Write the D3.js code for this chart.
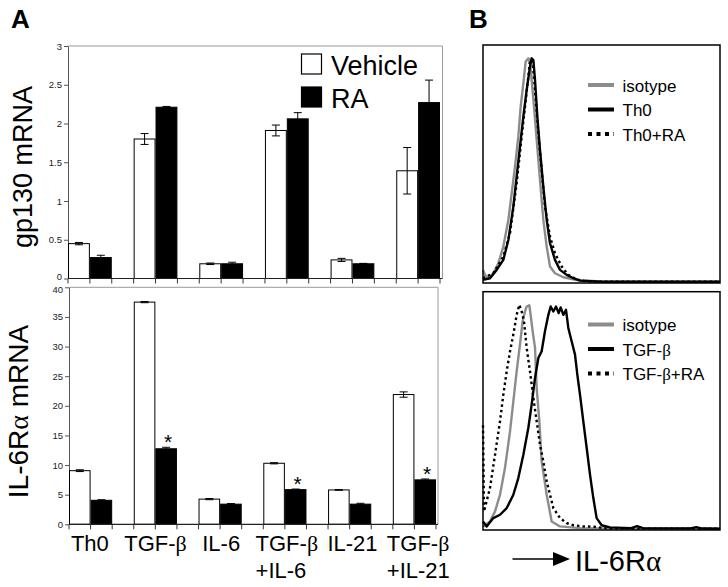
<!DOCTYPE html>
<html><head><meta charset="utf-8">
<script src="https://cdn.jsdelivr.net/npm/d3@7"></script>
<style>body{margin:0;background:#fff} svg{display:block;font-family:"Liberation Sans",Arial,sans-serif}</style>
</head><body><svg id="c" width="728" height="587"></svg>
<script>
// ---------- Data ----------
const categories = [["Th0"],["TGF-β"],["IL-6"],["TGF-β","+IL-6"],["IL-21"],["TGF-β","+IL-21"]];
const seriesNames = ["Vehicle","RA"];
const gp130Vehicle    = [0.45, 1.80, 0.19, 1.91, 0.24, 1.39];
const gp130VehicleErr = [0.015,0.07, 0.01, 0.07, 0.02, 0.30];
const gp130RA         = [0.27, 2.21, 0.19, 2.06, 0.19, 2.27];
const gp130RAErr      = [0.03, 0.01, 0.02, 0.08, 0.005,0.29];
const il6raVehicle    = [9.05, 37.5, 4.25, 10.3, 5.8, 21.9];
const il6raVehicleErr = [0.15, 0.1, 0.1, 0.1, 0.05, 0.45];
const il6raRA         = [4.05, 12.75,3.4, 5.85, 3.4, 7.5];
const il6raRAErr      = [0.1, 0.25, 0.1, 0.1, 0.15, 0.15];
const il6raSignif     = [false,true,false,true,false,true];
const gp130Ticks = [0,0.5,1,1.5,2,2.5,3];
const il6raTicks = [0,5,10,15,20,25,30,35,40];

// Flow histograms: [log decade, % of max]
const topIsotype = [[0,5.5],[0.034,3.4],[0.09,2.0],[0.174,4.1],[0.259,8.3],[0.343,15.3],[0.428,26.5],[0.484,37.7],[0.54,48.9],[0.596,61.5],[0.636,74.1],[0.681,83.9],[0.72,93],[0.765,94.4],[0.793,93],[0.821,85.3],[0.861,74.1],[0.906,60.1],[0.962,43.3],[1.018,26.5],[1.075,15.3],[1.131,6.9],[1.215,4.1],[1.356,2.4],[1.581,1.2],[2.0,0.6],[3.0,0.5],[4.0,0.5]];
const topTh0 = [[0,1.3],[0.118,2.0],[0.231,5.5],[0.343,9.7],[0.428,18.1],[0.512,32.1],[0.568,44.7],[0.624,57.3],[0.681,69.9],[0.737,81.1],[0.793,90.9],[0.821,94.4],[0.85,93.7],[0.878,85.3],[0.917,69.9],[0.962,55.9],[1.018,40.5],[1.075,26.5],[1.131,16.7],[1.215,9.7],[1.3,5.5],[1.412,3.4],[1.525,2.0],[1.637,1.0],[2.0,0.5],[3.0,0.5],[4.0,0.5]];
const topTh0RA = [[0,2.0],[0.174,4.1],[0.343,11.1],[0.456,20.9],[0.568,41.9],[0.653,61.5],[0.709,74.1],[0.765,86.7],[0.793,93.7],[0.838,93],[0.878,81.1],[0.934,62.9],[0.99,47.5],[1.046,32.1],[1.131,19.5],[1.215,12.5],[1.328,6.9],[1.44,3.4],[1.581,1.5],[1.75,0.6],[2.5,0.5],[4.0,0.5]];
const botIsotype = [[0.006,1.5],[0.118,3.6],[0.203,7.8],[0.287,14.8],[0.371,26.0],[0.456,41.4],[0.512,54.0],[0.568,66.6],[0.624,77.8],[0.669,87.6],[0.709,91.7],[0.737,93.8],[0.782,94.3],[0.804,90.3],[0.838,83.4],[0.878,76.4],[0.906,59.6],[0.951,45.6],[0.99,28.8],[1.075,14.8],[1.159,3.6],[1.3,1.5],[1.637,0.8],[2.5,0.5],[4.0,0.5]];
const botTGFb = [[0,3.6],[0.062,1.5],[0.174,5.0],[0.287,6.4],[0.4,9.2],[0.512,14.8],[0.596,21.8],[0.681,31.6],[0.765,42.8],[0.821,52.6],[0.878,63.8],[0.934,72.2],[0.99,75.0],[1.046,83.4],[1.103,90.3],[1.142,93.8],[1.187,91.7],[1.232,93.8],[1.277,91.0],[1.311,93.4],[1.356,90.3],[1.401,92.4],[1.44,84.8],[1.496,79.2],[1.553,73.6],[1.592,65.2],[1.637,56.8],[1.693,45.6],[1.75,34.4],[1.806,23.2],[1.862,13.4],[1.918,5.0],[2.003,2.0],[2.143,1.1],[2.5,0.8],[2.6,1.6],[2.7,0.8],[3.5,0.7],[3.6,1.2],[3.7,0.6],[4.0,0.5]];
const botTGFbRA = [[0,44],[0.017,7.8],[0.118,17.6],[0.203,31.6],[0.287,45.6],[0.343,56.8],[0.4,66.6],[0.456,75.0],[0.512,82.0],[0.568,90.3],[0.613,94.5],[0.653,91.7],[0.692,87.6],[0.737,76.4],[0.793,66.6],[0.85,55.4],[0.906,45.6],[0.962,35.8],[1.018,28.8],[1.075,20.4],[1.131,14.8],[1.187,9.2],[1.3,5.0],[1.412,2.9],[1.525,2.0],[1.693,1.5],[1.862,1.4],[2.1,0.6],[4.0,0.5]];
const topLegend = ["isotype","Th0","Th0+RA"];
const botLegend = ["isotype","TGF-β","TGF-β+RA"];

// ---------- Helpers ----------
const svg = d3.select("#c");
function richText(sel, str){
  str.split(/([αβ])/).filter(s=>s.length).forEach(s=>{
    const t = sel.append("tspan").text(s);
    if(/[αβ]/.test(s)) t.attr("font-family","'Liberation Serif','DejaVu Serif',serif");
  });
  return sel;
}

function barPanel(o){
  const g = svg.append("g");
  const x = d3.scaleBand().domain(d3.range(categories.length)).range([o.x0,o.x1]).paddingInner(1/3).paddingOuter(0);
  const bw = x.bandwidth();
  const y = d3.scaleLinear().domain([0,o.max]).range([o.yb,o.yt]);
  g.append("path").attr("d",`M${o.x0},${o.yt}H${o.fr}V${o.yb}`).attr("fill","none").attr("stroke","#9a9a9a").attr("stroke-width",1);
  const ax = g.append("g").attr("transform",`translate(${o.x0},0)`)
    .call(d3.axisLeft(y).tickValues(o.ticks).tickSize(4).tickSizeOuter(0).tickFormat(d=>String(d)).tickPadding(2));
  ax.select(".domain").attr("stroke","#555");
  ax.selectAll(".tick line").attr("stroke","#555");
  ax.selectAll(".tick text").attr("font-size",9.5).attr("fill","#222").attr("font-family","'Liberation Sans',Arial,sans-serif");
  // small nudge so the two labels at the panel junction do not collide
  ax.selectAll(".tick text").filter(d=>d===o.nudgeVal).attr("dy",o.nudgeDy);
  const groups = [{v:o.veh,e:o.vehErr,fill:"#fff",off:0},{v:o.ra,e:o.raErr,fill:"#000",off:bw/2}];
  groups.forEach(s=>{
    g.selectAll(null).data(s.v).join("rect")
      .attr("x",(d,i)=>x(i)+s.off+0.5).attr("width",bw/2-1)
      .attr("y",d=>y(d)).attr("height",d=>y(0)-y(d))
      .attr("fill",s.fill).attr("stroke","#000").attr("stroke-width",1);
    const eb = g.selectAll(null).data(s.v.map((d,i)=>({d,e:s.e[i],i}))).join("g");
    eb.append("line").attr("x1",d=>x(d.i)+s.off+bw/4).attr("x2",d=>x(d.i)+s.off+bw/4)
      .attr("y1",d=>y(d.d-d.e)).attr("y2",d=>y(d.d+d.e)).attr("stroke","#000");
    [1,-1].forEach(sg=>{
      eb.append("line").attr("x1",d=>x(d.i)+s.off+bw/4-4).attr("x2",d=>x(d.i)+s.off+bw/4+4)
        .attr("y1",d=>y(d.d+sg*d.e)).attr("y2",d=>y(d.d+sg*d.e)).attr("stroke","#000");
    });
  });
  g.append("line").attr("x1",o.x0).attr("x2",o.fr).attr("y1",y(0)).attr("y2",y(0)).attr("stroke","#222").attr("stroke-width",1.2);
  const tks = [];
  categories.forEach((c,i)=>{tks.push(x(i),x(i)+bw/2,x(i)+bw);});
  g.selectAll(null).data(tks).join("line").attr("x1",d=>d).attr("x2",d=>d)
    .attr("y1",y(0)).attr("y2",y(0)+5).attr("stroke","#333");
  return {g,x,y,bw};
}

// ---------- Panel A top ----------
const A1 = barPanel({x0:68,x1:440,fr:442.5,yt:46,yb:278.5,max:3,ticks:gp130Ticks,
  veh:gp130Vehicle,vehErr:gp130VehicleErr,ra:gp130RA,raErr:gp130RAErr,nudgeVal:0,nudgeDy:"0.1em"});
const legY = [54,87];
seriesNames.forEach((n,i)=>{
  svg.append("rect").attr("x",301.5).attr("y",legY[i]).attr("width",20).attr("height",20)
    .attr("fill",i?"#000":"#fff").attr("stroke","#000").attr("stroke-width",1.2);
  svg.append("text").attr("x",331).attr("y",legY[i]+21).attr("font-size",27).text(n);
});
svg.append("text").attr("transform","translate(32,167) rotate(-90)").attr("text-anchor","middle")
  .attr("font-size",27).text("gp130 mRNA");

// ---------- Panel A bottom ----------
const A2 = barPanel({x0:69,x1:436,fr:438,yt:287.3,yb:524.3,max:40,ticks:il6raTicks,
  veh:il6raVehicle,vehErr:il6raVehicleErr,ra:il6raRA,raErr:il6raRAErr,nudgeVal:40,nudgeDy:"0.5em"});
il6raSignif.forEach((s,i)=>{
  if(!s) return;
  A2.g.append("text").attr("x",A2.x(i)+A2.bw*0.75+2).attr("y",A2.y(il6raRA[i]+il6raRAErr[i])+2)
    .attr("text-anchor","middle").attr("font-size",21).text("*");
});
richText(svg.append("text").attr("transform","translate(28,411.5) rotate(-90)").attr("text-anchor","middle")
  .attr("font-size",28), "IL-6Rα mRNA");

categories.forEach((lines,i)=>{
  const cx = A1.x(i)+A1.bw/2;
  const t1 = richText(svg.append("text").attr("x",cx).attr("y",550.5).attr("text-anchor","middle").attr("font-size",22), lines[0]);
  if(lines[1]){
    const bb = t1.node().getBBox();
    richText(svg.append("text").attr("x",bb.x).attr("y",578).attr("font-size",22), lines[1]);
  }
});

svg.append("text").attr("x",11).attr("y",28).attr("font-size",26).attr("font-weight","bold").text("A");
svg.append("text").attr("x",469).attr("y",28).attr("font-size",26).attr("font-weight","bold").text("B");

// ---------- Panel B ----------
function histPanel(yt,yb,curves,labels,legY0){
  const g = svg.append("g");
  const x = d3.scaleLinear().domain([0,4]).range([483,720]);
  const y = d3.scaleLinear().domain([0,100]).range([yb,yt]);
  const line = d3.line().x(d=>x(d[0])).y(d=>y(d[1]));
  const styles = [{c:"#8c8c8c",dash:null},{c:"#000",dash:null},{c:"#000",dash:"2.5,3"}];
  curves.forEach((cv,i)=>{
    g.append("path").datum(cv).attr("d",line).attr("fill","none").attr("stroke",styles[i].c)
      .attr("stroke-width",2.4).attr("stroke-dasharray",styles[i].dash).attr("stroke-linejoin","round");
  });
  g.append("rect").attr("x",483).attr("y",yt).attr("width",237).attr("height",yb-yt)
    .attr("fill","none").attr("stroke","#000").attr("stroke-width",1.5);
  labels.forEach((l,i)=>{
    const ly = legY0 + i*24.5;
    g.append("line").attr("x1",588).attr("x2",614).attr("y1",ly).attr("y2",ly)
      .attr("stroke",styles[i].c).attr("stroke-width",4).attr("stroke-dasharray",i===2?"4,4.5":null);
    richText(g.append("text").attr("x",622.5).attr("y",ly+6.5).attr("font-size",17), l);
  });
}
histPanel(45,283,[topIsotype,topTh0,topTh0RA],topLegend,85);
histPanel(291.7,530,[botIsotype,botTGFb,botTGFbRA],botLegend,324.5);

svg.append("line").attr("x1",512.5).attr("x2",556).attr("y1",559).attr("y2",559).attr("stroke","#000").attr("stroke-width",1.5);
svg.append("path").attr("d","M553,552L570,559L553,566Z").attr("fill","#000");
richText(svg.append("text").attr("x",575).attr("y",571).attr("font-size",29), "IL-6Rα");
</script></body></html>
